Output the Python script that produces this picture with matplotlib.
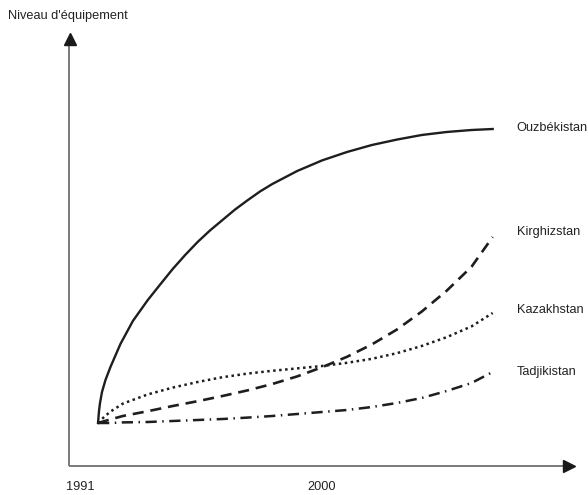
import matplotlib
matplotlib.use("Agg")
import matplotlib.pyplot as plt

plt.rcParams['font.family'] = ['Liberation Sans', 'DejaVu Sans']

# Data (schematic "equipment level" curves)
years = [1991, 1991.25, 1991.5, 1992, 1993, 1994, 1995, 1996, 1997, 1998,
         1999, 2000, 2001, 2002, 2003, 2004, 2005, 2006, 2006.85]
years_ouz = [1991, 1991.04, 1991.08, 1991.16, 1991.3, 1991.5, 1991.9, 1992.4,
             1993, 1993.5, 1994, 1994.5, 1995, 1995.5, 1996, 1996.5, 1997,
             1997.5, 1998, 1999, 2000, 2001, 2002, 2003, 2004, 2005, 2006,
             2006.85]
ouzbekistan = [10.75, 13.75, 15.75, 18.5, 21.5, 24.75, 30.5, 36.25,
               41.5, 45.4, 49.25, 52.75, 56, 58.9, 61.5, 64.1, 66.4,
               68.6, 70.5, 73.75, 76.4, 78.5, 80.25, 81.6, 82.75, 83.5, 84,
               84.25]
kirghizstan = [10.75, 11.2, 11.65, 12.5, 13.7, 15.0, 16.2, 17.5, 18.9, 20.5,
               22.4, 24.7, 27.3, 30.4, 34.1, 38.6, 43.8, 49.8, 57.25]
kazakhstan = [10.75, 12.3, 13.6, 15.6, 17.9, 19.6, 21.0, 22.2, 23.1, 23.8,
              24.4, 25.0, 25.8, 26.8, 28.2, 30.0, 32.2, 34.9, 38.25]
tadjikistan = [10.75, 10.75, 10.75, 10.9, 11, 11.25, 11.5, 11.75, 12.1, 12.5,
               13, 13.5, 14, 14.75, 15.75, 17, 18.75, 20.75, 23.5]
tick_years = [1991, 2000]
tick_labels = ["1991", "2000"]
ylabel = "Niveau d'équipement"

W, H = 588, 495
fig = plt.figure(figsize=(W / 100, H / 100), dpi=100)
ax = fig.add_axes([69 / W, (H - 466) / H, (575 - 69) / W, (466 - 33) / H])
ax.set_xlim(1989.835, 2010.157)
ax.set_ylim(0, 108.25)
for s in ax.spines.values():
    s.set_visible(False)
ax.set_xticks([])
ax.set_yticks([])
ax.patch.set_alpha(0)

ink = '#1e1e1e'
ax.plot(years_ouz, ouzbekistan, color=ink, lw=1.7, ls='-',
        solid_joinstyle='round')
ax.plot(years, kirghizstan, color=ink, lw=1.9, ls=(0, (4.2, 2.6)))
ax.plot(years, kazakhstan, color=ink, lw=1.8, ls=(0, (1.0, 1.4)))
ax.plot(years, tadjikistan, color=ink, lw=1.8, ls=(0, (4.5, 2.2, 0.6, 2.2)))

# axes with arrows
axis_col = '#7a7a7a'
ax.plot([0, 0], [0, 0.975], transform=ax.transAxes, color=axis_col, lw=1.4,
        clip_on=False, solid_capstyle='butt')
ax.plot([0, 0.985], [0, 0], transform=ax.transAxes, color=axis_col, lw=1.4,
        clip_on=False, solid_capstyle='butt')
ax.plot([0.001], [0.985], transform=ax.transAxes, marker='^', ms=9,
        color='#1a1a1a', clip_on=False)
ax.plot([0.988], [0.0], transform=ax.transAxes, marker='>', ms=9,
        color='#1a1a1a', clip_on=False)

fs = 9.2
# tick labels
tick_dx = [-18, 0]
for yr, lab, dx in zip(tick_years, tick_labels, tick_dx):
    ax.annotate(lab, xy=(yr, 0), xytext=(dx, -21), textcoords='offset pixels',
                ha='center', va='center', fontsize=fs, color='#222222',
                annotation_clip=False)

# y label
fig.text(8 / W, 1 - 16 / H, ylabel, ha='left', va='center', fontsize=fs,
         color='#222222')

# series labels
series = [("Ouzbékistan", years_ouz, ouzbekistan, 1),
          ("Kirghizstan", years, kirghizstan, 5),
          ("Kazakhstan", years, kazakhstan, 3),
          ("Tadjikistan", years, tadjikistan, 0)]
for name, xs, vals, dy in series:
    ax.annotate(name, xy=(xs[-1], vals[-1]), xytext=(24, dy),
                textcoords='offset pixels', ha='left', va='center',
                fontsize=fs, color='#222222', annotation_clip=False)

fig.savefig("out.png", dpi=100)
